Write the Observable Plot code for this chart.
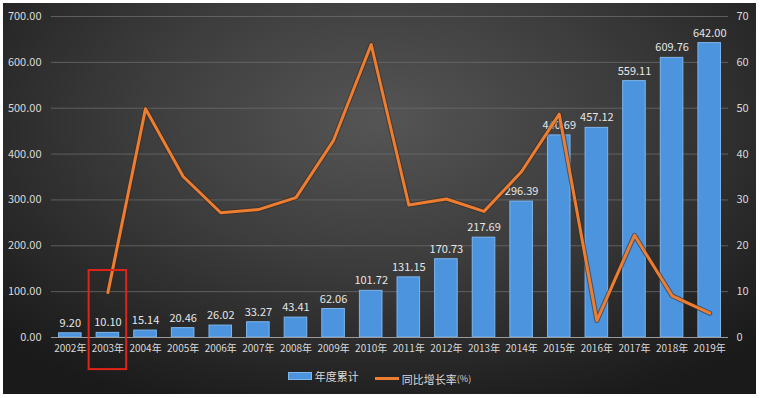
<!DOCTYPE html>
<html><head><meta charset="utf-8">
<script src="https://cdn.jsdelivr.net/npm/d3@7"></script>
<script src="https://cdn.jsdelivr.net/npm/@observablehq/plot@0.6"></script>
<style>
html,body{margin:0;padding:0;background:#fff;width:760px;height:398px;overflow:hidden;}
#box{position:absolute;left:3px;top:3px;width:753px;height:391px;
 background:radial-gradient(ellipse 70% 80% at 50% 30%, #555 0%, #3d3d3d 45%, #232323 85%, #1a1a1a 100%);
 font-family:"Noto Sans CJK SC","Noto Sans",sans-serif;}
#chart{position:absolute;left:0;top:0;}
#legend{position:absolute;left:0;width:753px;top:364px;text-align:center;color:#d9d9d9;font-size:11px;}
.it{display:inline-flex;align-items:center;margin:0 8px;}
.sw{display:inline-block;width:22px;height:6px;background:#4d94de;border:1px solid #7fb6ee;margin-right:3px;}
.ln{display:inline-block;width:24px;height:3px;background:#ed7d31;margin-right:3px;}
.small{font-size:9px;}
</style></head>
<body>
<div id="box">
<div id="legend"><span class="it"><span class="sw"></span>年度累计</span><span class="it"><span class="ln"></span>同比增长率<span class="small">(%)</span></span></div>
<div id="chart"></div>
</div>
<script>
const years = ["2002年","2003年","2004年","2005年","2006年","2007年","2008年","2009年","2010年","2011年","2012年","2013年","2014年","2015年","2016年","2017年","2018年","2019年"];
const cumulative = [9.20,10.10,15.14,20.46,26.02,33.27,43.41,62.06,101.72,131.15,170.73,217.69,296.39,440.69,457.12,559.11,609.76,642.00];
const growth = [null,9.8,49.9,35.1,27.2,27.9,30.5,43.0,63.9,28.9,30.2,27.5,36.2,48.7,3.7,22.3,9.1,5.3];
const leftTicks = [0,100,200,300,400,500,600,700];
const rightTicks = [0,10,20,30,40,50,60,70];
const highlight = [{year:"2003年", low:-70, high:146}];

const ratio = 10; // right axis (%) mapped onto left axis scale
const bars = years.map((y,i)=>({year:y, value:cumulative[i]}));
const line = years.map((y,i)=>({year:y, pct: growth[i] == null ? null : growth[i]*ratio}));

const chart = Plot.plot({
  width:753, height:374,
  marginTop:13, marginBottom:40, marginLeft:48, marginRight:28,
  style:{background:"transparent", color:"#d9d9d9", fontFamily:"'Noto Sans CJK SC','Noto Sans',sans-serif", fontSize:"11px"},
  x:{domain:years, paddingInner:0.4, paddingOuter:0.2, round:false},
  y:{domain:[0,700]},
  marks:[
    Plot.ruleY(leftTicks.filter(d=>d>0), {stroke:"#6a6a6a", strokeWidth:1, strokeOpacity:0.8}),
    Plot.axisY(leftTicks, {anchor:"left", tickSize:0, tickPadding:10, tickFormat:d3.format(".2f"), fill:"#d9d9d9", label:null}),
    Plot.axisY(rightTicks.map(d=>d*ratio), {anchor:"right", tickSize:0, tickPadding:8, textAnchor:"start", tickFormat:d=>String(d/ratio), fill:"#d9d9d9", label:null}),
    Plot.barY(bars, {x:"year", y:"value", fill:"#4d94de", stroke:"#7db5ee", strokeWidth:1}),
    Plot.ruleY([0], {stroke:"#9a9a9a", strokeWidth:1}),
    Plot.axisX({tickSize:0, tickPadding:7, fill:"#d9d9d9", label:null, fontSize:10}),
    Plot.text(bars, {x:"year", y:"value", text:d=>d.value.toFixed(2), dy:-10, fill:"#e6e6e6", fontSize:11}),
    Plot.line(line, {x:"year", y:"pct", stroke:"#3a2a1e", strokeWidth:5, strokeOpacity:0.6}),
    Plot.line(line, {x:"year", y:"pct", stroke:"#ed7d31", strokeWidth:3}),
    Plot.barY(highlight, {x:"year", y1:"low", y2:"high", fill:"none", stroke:"#e2231a", strokeWidth:2, insetLeft:-7.5, insetRight:-7.5})
  ]
});
document.getElementById("chart").appendChild(chart);
</script>
</body></html>
